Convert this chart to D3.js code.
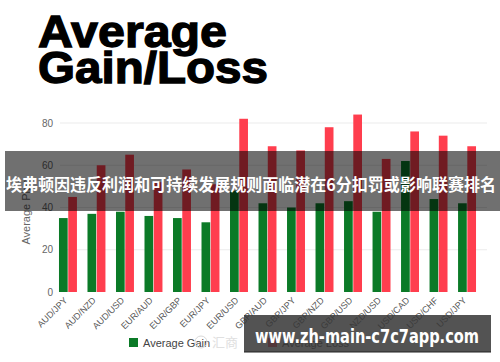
<!DOCTYPE html>
<html><head><meta charset="utf-8">
<script src="https://cdn.jsdelivr.net/npm/d3@7"></script>
<style>html,body{margin:0;padding:0;background:#fff;overflow:hidden}</style>
</head><body>
<svg id="c" width="500" height="362"></svg>
<script>
const categories = ["AUD/JPY","AUD/NZD","AUD/USD","EUR/AUD","EUR/GBP","EUR/JPY","EUR/USD","GBP/AUD","GBP/JPY","GBP/NZD","GBP/USD","NZD/USD","USD/CAD","USD/CHF","USD/JPY"];
const gainValues = [35,37,38,36,35,33,48,42,40,42,43,38,62,44,42];
const lossValues = [45,60,65,52,58,51,82,69,67,78,84,63,76,74,69];
const yTicks = [0,20,40,60,80];
const seriesNames = ["Average Gain","Average Loss"];
const seriesColors = ["#0b7a27","#ff3e4e"];
const titleLines = ["Average","Gain/Loss"];
const yTitle = "Average Pips";
const bannerText = "埃弗顿因违反利润和可持续发展规则面临潜在6分扣罚或影响联赛排名";
const footerText = "www.zh-main-c7c7app.com";

const svg = d3.select("#c");
const x0 = d3.scaleBand().domain(categories).range([51,484]).paddingInner(0.37).paddingOuter(0.28);
const x1 = d3.scaleBand().domain([0,1]).range([0,x0.bandwidth()]).paddingInner(0.06);
const y = d3.scaleLinear().domain([0,80]).range([292,123]);

// title
svg.append("text").attr("x",38).attr("y",47).text(titleLines[0])
  .attr("font-family","Liberation Sans, Arial, sans-serif").attr("font-weight","bold")
  .attr("font-size",45).attr("textLength",189).attr("lengthAdjust","spacingAndGlyphs")
  .attr("fill","#000").attr("stroke","#000").attr("stroke-width",1.3);
svg.append("text").attr("x",38).attr("y",83).text(titleLines[1])
  .attr("font-family","Liberation Sans, Arial, sans-serif").attr("font-weight","bold")
  .attr("font-size",45).attr("textLength",230).attr("lengthAdjust","spacingAndGlyphs")
  .attr("fill","#000").attr("stroke","#000").attr("stroke-width",1.3);

// grid
svg.append("g").selectAll("line").data(yTicks.filter(d=>d>0)).join("line")
  .attr("x1",60).attr("x2",487).attr("y1",d=>y(d)).attr("y2",d=>y(d))
  .attr("stroke","#ebebeb").attr("stroke-width",1);

// y axis
const ya = svg.append("g").attr("transform","translate(56,0)")
  .call(d3.axisLeft(y).tickValues(yTicks).tickSize(0).tickPadding(3));
ya.select(".domain").remove();
ya.selectAll("text").attr("font-family","Liberation Sans, Arial, sans-serif").attr("font-size",10).attr("fill","#666");

svg.append("text").attr("transform","translate(30,212) rotate(-90)").attr("text-anchor","middle")
  .attr("font-family","Liberation Sans, Arial, sans-serif").attr("font-size",11).attr("fill","#666").text(yTitle);

// bars
const groups = svg.append("g").selectAll("g").data(categories).join("g")
  .attr("transform",d=>`translate(${x0(d)},0)`);
groups.selectAll("rect").data((d,i)=>[gainValues[i],lossValues[i]]).join("rect")
  .attr("x",(d,j)=>x1(j)).attr("width",x1.bandwidth())
  .attr("y",d=>y(d)).attr("height",d=>y(0)-y(d))
  .attr("fill",(d,j)=>seriesColors[j]);

// x axis labels
const xa = svg.append("g").attr("transform","translate(0,292)")
  .call(d3.axisBottom(x0).tickSize(0).tickPadding(0));
xa.select(".domain").remove();
xa.selectAll("text").attr("font-family","Liberation Sans, Arial, sans-serif").attr("font-size",9).attr("fill","#555")
  .attr("text-anchor","end").attr("dy",0).attr("transform","translate(0,9) rotate(-45)");

// legend
const lg = svg.append("g");
[[129,143],[268,282]].forEach((p,i)=>{
  lg.append("rect").attr("x",p[0]).attr("y",338).attr("width",9).attr("height",9).attr("fill",seriesColors[i]);
  lg.append("text").attr("x",p[1]).attr("y",346.5).text(seriesNames[i])
    .attr("font-family","Liberation Sans, Arial, sans-serif").attr("font-size",11).attr("fill","#444");
});
// faint watermark
svg.append("circle").attr("cx",201).attr("cy",342).attr("r",6).attr("fill","none").attr("stroke","#d8d8d8");
svg.append("text").attr("x",212).attr("y",347).text("汇商")
  .attr("font-family","Noto Sans CJK SC").attr("font-size",13).attr("fill","#e0e0e0");

// top banner
svg.append("rect").attr("x",5).attr("y",151).attr("width",495).attr("height",60).attr("fill","rgba(0,0,0,0.56)");
svg.append("text").attr("x",251).attr("y",191).attr("text-anchor","middle").text(bannerText)
  .attr("font-family","Noto Sans CJK SC").attr("font-weight","bold").attr("font-size",16.5)
  .attr("textLength",490).attr("lengthAdjust","spacingAndGlyphs").attr("fill","#fff");

// bottom banner
svg.append("rect").attr("x",244).attr("y",315).attr("width",247).attr("height",37).attr("fill","rgba(55,55,55,0.86)");
svg.append("line").attr("x1",244).attr("x2",491).attr("y1",352).attr("y2",352).attr("stroke","#222").attr("stroke-width",1);
svg.append("text").attr("x",367).attr("y",343).attr("text-anchor","middle").text(footerText)
  .attr("font-family","DejaVu Sans, sans-serif").attr("font-weight","bold").attr("font-size",19)
  .attr("textLength",224).attr("lengthAdjust","spacingAndGlyphs").attr("fill","#fff");
</script>
</body></html>
